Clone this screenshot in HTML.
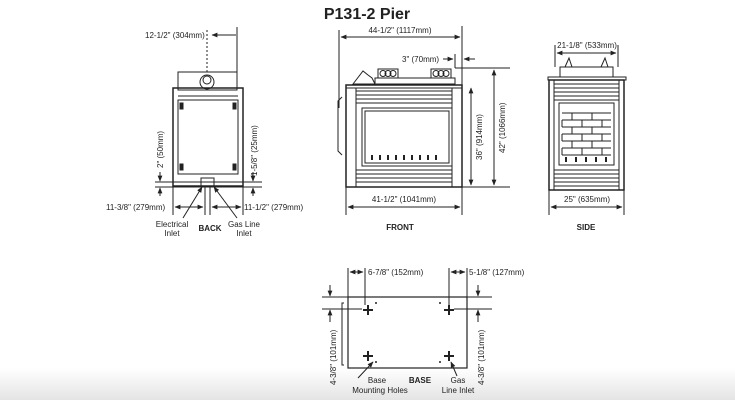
<!DOCTYPE html>
<html><head><meta charset="utf-8"><style>
html,body{margin:0;padding:0;background:#fff;}
svg{display:block;}
text{font-family:"Liberation Sans",Arial,sans-serif;fill:#222;}
</style></head><body>
<svg width="735" height="400" viewBox="0 0 735 400" xmlns="http://www.w3.org/2000/svg">
<defs>
<linearGradient id="bg" x1="0" y1="0" x2="0" y2="1">
<stop offset="0" stop-color="#fff"/><stop offset="1" stop-color="#e4e4e4"/></linearGradient>
<marker id="a" viewBox="0 0 10 10" refX="9" refY="5" markerWidth="6" markerHeight="6" orient="auto-start-reverse"><path d="M0,1 L10,5 L0,9z" fill="#222"/></marker>
</defs>
<rect x="0" y="368" width="735" height="32" fill="url(#bg)"/>
<text x="367" y="19" font-size="16" font-weight="bold" text-anchor="middle">P131-2 Pier</text>

<g stroke="#222" fill="none" stroke-width="1">
<!-- BACK -->
<line x1="237" y1="27" x2="237" y2="72"/>
<line x1="207" y1="30" x2="207" y2="72" stroke-dasharray="2,2"/>
<line x1="212" y1="35" x2="236" y2="35" marker-start="url(#a)"/>
<rect x="178" y="72" width="59" height="18"/>
<circle cx="207" cy="82" r="7"/><circle cx="207" cy="80" r="4"/>
<rect x="173" y="88" width="70" height="98" stroke-width="1.5"/>
<rect x="178" y="100" width="60" height="74"/>
<line x1="178" y1="96" x2="238" y2="96"/>
<rect x="180" y="103" width="3" height="6" fill="#222"/><rect x="233" y="103" width="3" height="6" fill="#222"/>
<rect x="180" y="164" width="3" height="6" fill="#222"/><rect x="233" y="164" width="3" height="6" fill="#222"/>
<line x1="155" y1="182" x2="262" y2="182"/><line x1="155" y1="187" x2="262" y2="187"/>
<rect x="201" y="178" width="13" height="8"/>
<line x1="160" y1="172" x2="160" y2="181" marker-end="url(#a)"/><line x1="160" y1="196" x2="160" y2="188" marker-end="url(#a)"/>
<line x1="253" y1="172" x2="253" y2="181" marker-end="url(#a)"/><line x1="253" y1="196" x2="253" y2="188" marker-end="url(#a)"/>
<line x1="173" y1="187" x2="173" y2="215"/><line x1="205" y1="187" x2="205" y2="215"/>
<line x1="210" y1="187" x2="210" y2="215"/><line x1="243" y1="187" x2="243" y2="215"/>
<line x1="175" y1="207" x2="203" y2="207" marker-start="url(#a)" marker-end="url(#a)"/>
<line x1="212" y1="207" x2="241" y2="207" marker-start="url(#a)" marker-end="url(#a)"/>
<line x1="183" y1="218" x2="202" y2="187" marker-end="url(#a)"/>
<line x1="237" y1="218" x2="214" y2="187" marker-end="url(#a)"/>

<!-- FRONT -->
<line x1="339" y1="30" x2="339" y2="108"/>
<line x1="462" y1="26" x2="462" y2="215"/>
<line x1="341" y1="37" x2="460" y2="37" marker-start="url(#a)" marker-end="url(#a)"/>
<line x1="455" y1="54" x2="455" y2="68"/>
<line x1="443" y1="59" x2="453" y2="59" marker-end="url(#a)"/>
<line x1="475" y1="59" x2="464" y2="59" marker-end="url(#a)"/>
<rect x="378" y="69" width="20" height="9"/><rect x="431" y="69" width="20" height="9"/>
<circle cx="383" cy="73.5" r="3"/><circle cx="388" cy="73.5" r="3"/><circle cx="393" cy="73.5" r="3"/>
<circle cx="436" cy="73.5" r="3"/><circle cx="441" cy="73.5" r="3"/><circle cx="446" cy="73.5" r="3"/>
<path d="M353,84 L363,71 L368,75 L372,78 L375,84z"/>
<rect x="375" y="78" width="80" height="6"/>
<line x1="455" y1="68" x2="510" y2="68"/>
<rect x="346" y="85" width="116" height="102" stroke-width="1.5"/>
<line x1="346" y1="88" x2="462" y2="88"/>
<line x1="356" y1="88" x2="356" y2="187"/>
<line x1="452" y1="88" x2="452" y2="187"/>
<path d="M356,91H452M356,95H452M356,99H452M356,103H452"/>
<path d="M356,170H452M356,174H452M356,178H452M356,182H452"/>
<rect x="362" y="108" width="90" height="58"/>
<rect x="365" y="111" width="84" height="52"/>
<path d="M372,160v-5M380,160v-5M388,160v-5M396,160v-5M404,160v-5M412,160v-5M420,160v-5M428,160v-5M436,160v-5" stroke-width="2"/>
<path d="M342,97 l-4,4 v50 l4,4"/>
<line x1="462" y1="187" x2="510" y2="187"/>
<line x1="471" y1="88" x2="471" y2="185" marker-start="url(#a)" marker-end="url(#a)"/>
<line x1="494" y1="70" x2="494" y2="185" marker-start="url(#a)" marker-end="url(#a)"/>
<line x1="346" y1="187" x2="346" y2="215"/>
<line x1="348" y1="207" x2="460" y2="207" marker-start="url(#a)" marker-end="url(#a)"/>

<!-- SIDE -->
<line x1="555" y1="45" x2="555" y2="67"/><line x1="618" y1="45" x2="618" y2="67"/>
<line x1="557" y1="53" x2="616" y2="53" marker-start="url(#a)" marker-end="url(#a)"/>
<rect x="560" y="67" width="53" height="10"/>
<path d="M565,67 l4,-9 l3,9 M601,67 l4,-9 l3,9"/>
<rect x="548" y="77" width="78" height="3"/>
<rect x="549" y="80" width="75" height="110" stroke-width="1.5"/>
<line x1="554" y1="80" x2="554" y2="190"/><line x1="619" y1="80" x2="619" y2="190"/>
<path d="M554,84H619M554,88H619M554,92H619M554,96H619M554,100H619"/>
<path d="M554,170H619M554,174H619M554,178H619M554,182H619M554,186H619"/>
<rect x="559" y="103" width="55" height="62"/>
<path d="M562,113H611M562,120H611M562,127H611M562,134H611M562,141H611M562,148H611M562,155H611"/>
<path d="M572,113v7M592,113v7M562,120v7M582,120v7M602,120v7M572,127v7M592,127v7M562,134v7M582,134v7M602,134v7M572,141v7M592,141v7M562,148v7M582,148v7M602,148v7"/>
<path d="M566,162v-5M576,162v-5M586,162v-5M596,162v-5M606,162v-5" stroke-width="2"/>
<line x1="549" y1="190" x2="549" y2="215"/><line x1="624" y1="190" x2="624" y2="215"/>
<line x1="551" y1="207" x2="622" y2="207" marker-start="url(#a)" marker-end="url(#a)"/>

<!-- BASE -->
<rect x="348" y="297" width="119" height="71" stroke-width="1.2"/>
<path d="M344,303 h-2 v62 h2"/>
<line x1="348" y1="268" x2="348" y2="297"/><line x1="365" y1="268" x2="365" y2="305"/>
<line x1="350" y1="272" x2="363" y2="272" marker-start="url(#a)" marker-end="url(#a)"/>
<line x1="449" y1="268" x2="449" y2="305"/><line x1="467" y1="268" x2="467" y2="297"/>
<line x1="451" y1="272" x2="465" y2="272" marker-start="url(#a)" marker-end="url(#a)"/>
<line x1="322" y1="297" x2="348" y2="297"/><line x1="322" y1="309" x2="362" y2="309"/>
<line x1="467" y1="297" x2="492" y2="297"/><line x1="454" y1="309" x2="492" y2="309"/>
<line x1="330" y1="285" x2="330" y2="296" marker-end="url(#a)"/>
<line x1="330" y1="322" x2="330" y2="310" marker-end="url(#a)"/>
<line x1="478" y1="285" x2="478" y2="296" marker-end="url(#a)"/>
<line x1="478" y1="322" x2="478" y2="310" marker-end="url(#a)"/>
<line x1="358" y1="378" x2="373" y2="362" marker-end="url(#a)"/>
<line x1="457" y1="376" x2="451" y2="362" marker-end="url(#a)"/>
</g>
<g fill="#222">
<path d="M368,305v10M363,310h10M449,305v10M444,310h10M368,351v10M363,356h10M449,351v10M444,356h10" stroke="#222" stroke-width="2"/>
<circle cx="376" cy="303" r="1"/><circle cx="440" cy="303" r="1"/><circle cx="376" cy="362" r="1"/><circle cx="440" cy="362" r="1"/>
</g>

<g font-size="8">
<text x="145" y="38">12-1/2" (304mm)</text>
<text transform="translate(163,168) rotate(-90)">2" (50mm)</text>
<text transform="translate(257,176) rotate(-90)">1-5/8" (25mm)</text>
<text x="106" y="210">11-3/8" (279mm)</text>
<text x="244" y="210">11-1/2" (279mm)</text>
<text x="172" y="227" text-anchor="middle">Electrical</text>
<text x="172" y="236" text-anchor="middle">Inlet</text>
<text x="244" y="227" text-anchor="middle">Gas Line</text>
<text x="244" y="236" text-anchor="middle">Inlet</text>
<text x="400" y="33" text-anchor="middle">44-1/2" (1117mm)</text>
<text x="402" y="62">3" (70mm)</text>
<text transform="translate(482,160) rotate(-90)">36" (914mm)</text>
<text transform="translate(505,153) rotate(-90)">42" (1066mm)</text>
<text x="404" y="202" text-anchor="middle">41-1/2" (1041mm)</text>
<text x="587" y="48" text-anchor="middle">21-1/8" (533mm)</text>
<text x="587" y="202" text-anchor="middle">25" (635mm)</text>
<text x="368" y="275">6-7/8" (152mm)</text>
<text x="469" y="275">5-1/8" (127mm)</text>
<text transform="translate(336,385) rotate(-90)">4-3/8" (101mm)</text>
<text transform="translate(484,385) rotate(-90)">4-3/8" (101mm)</text>
<text x="377" y="383" text-anchor="middle">Base</text>
<text x="380" y="393" text-anchor="middle">Mounting Holes</text>
<text x="458" y="383" text-anchor="middle">Gas</text>
<text x="458" y="393" text-anchor="middle">Line Inlet</text>
</g>
<g font-size="8" font-weight="bold">
<text x="210" y="231" text-anchor="middle">BACK</text>
<text x="400" y="230" text-anchor="middle">FRONT</text>
<text x="586" y="230" text-anchor="middle">SIDE</text>
<text x="420" y="383" text-anchor="middle">BASE</text>
</g>
</svg>
</body></html>
